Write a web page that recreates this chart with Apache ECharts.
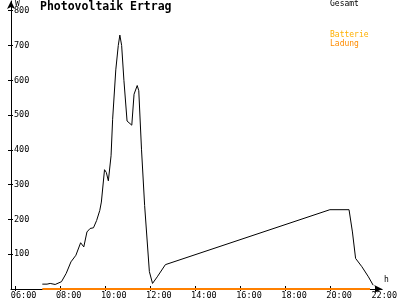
<!DOCTYPE html>
<html><head><meta charset="utf-8">
<script src="https://cdn.jsdelivr.net/npm/echarts@6/dist/echarts.min.js"></script>
<style>html,body{margin:0;padding:0;background:#fff}#c{width:400px;height:300px}</style>
</head><body><div id="c"></div>
<script>
const title = "Photovoltaik Ertrag";
const seriesNames = ["Gesamt", "Batterie", "Ladung"];
const xTicks = [6, 8, 10, 12, 14, 16, 18, 20, 22];
const yTicks = [100, 200, 300, 400, 500, 600, 700, 800];
const gesamtHours = [7.22,7.43,7.57,7.79,8.07,8.28,8.49,8.71,8.92,9.06,9.20,9.34,9.49,9.63,9.77,9.84,9.98,10.06,10.15,10.27,10.34,10.48,10.59,10.66,10.74,10.84,10.98,11.19,11.29,11.43,11.50,11.62,11.76,11.97,12.11,12.32,12.68,19.98,20.83,20.98,21.12,21.40,21.69,21.90];
const gesamtValues = [14,14,16,13,21,45,78,97,133,121,164,174,176,197,226,250,343,335,311,383,488,630,700,730,700,600,483,471,560,585,570,402,240,50,16,35,70,228,228,164,88,64,35,11];
const ladungHours = [7.22, 21.76];
const ladungValues = [0, 0];

const fmt = v => (v < 10 ? "0" : "") + Math.round(v) + ":00";
const mono = "DejaVu Sans Mono";
const chart = echarts.init(document.getElementById('c'), null, {renderer: 'canvas'});
const grid = {left: 11, right: 2, top: 1, bottom: 9};
const xBase = {type: 'value', min: 5.83, max: 22.3, position: 'bottom', splitLine: {show: false}};
const yBase = {type: 'value', min: 0, max: 828, position: 'left', splitLine: {show: false}};
chart.setOption({
  animation: false,
  grid: grid,
  xAxis: [
    Object.assign({}, xBase, {
      axisLine: {show: true, lineStyle: {color: '#000', width: 1}, symbol: ['none', 'arrow'], symbolSize: [6, 8]},
      axisTick: {show: true, length: 2, inside: false, customValues: xTicks, lineStyle: {color: '#000'}},
      axisLabel: {show: true, customValues: xTicks, formatter: fmt, fontFamily: mono, fontSize: 8.5, color: '#000', margin: 2, align: 'left', padding: [0, 0, 0, -4]}
    }),
    Object.assign({}, xBase, {
      axisLine: {show: false},
      axisTick: {show: true, length: 3, inside: true, customValues: xTicks, lineStyle: {color: '#000'}},
      axisLabel: {show: false}
    })
  ],
  yAxis: [
    Object.assign({}, yBase, {
      axisLine: {show: true, lineStyle: {color: '#000', width: 1}, symbol: ['none', 'arrow'], symbolSize: [6, 8]},
      axisTick: {show: true, length: 3, inside: false, customValues: yTicks, lineStyle: {color: '#000'}},
      axisLabel: {show: true, inside: true, customValues: yTicks, fontFamily: mono, fontSize: 8.5, color: '#000', margin: 3}
    }),
    Object.assign({}, yBase, {
      axisLine: {show: false},
      axisTick: {show: true, length: 2, inside: true, customValues: yTicks, lineStyle: {color: '#000'}},
      axisLabel: {show: false}
    })
  ],
  series: [
    {name: seriesNames[2], type: 'line', xAxisIndex: 0, yAxisIndex: 0, symbol: 'none', z: 3,
     lineStyle: {color: '#ff8000', width: 2}, data: ladungHours.map((h, i) => [h, ladungValues[i]])},
    {name: seriesNames[0], type: 'line', xAxisIndex: 0, yAxisIndex: 0, symbol: 'none', z: 4,
     lineStyle: {color: '#000', width: 1}, data: gesamtHours.map((h, i) => [h, gesamtValues[i]])}
  ],
  graphic: [
    {type: 'text', left: 40, top: 1, z: 10, style: {text: title, font: 'bold 11.5px "DejaVu Sans Mono"', fill: '#000'}},
    {type: 'text', left: 15, top: 0, z: 10, style: {text: 'W', font: '8px "DejaVu Sans Mono"', fill: '#000'}},
    {type: 'text', left: 384, top: 276, z: 10, style: {text: 'h', font: '8px "DejaVu Sans Mono"', fill: '#000'}},
    {type: 'text', left: 330, top: 0, z: 10, style: {text: seriesNames[0], font: '8px "DejaVu Sans Mono"', fill: '#000'}},
    {type: 'text', left: 330, top: 31, z: 10, style: {text: seriesNames[1], font: '8px "DejaVu Sans Mono"', fill: '#ffb000'}},
    {type: 'text', left: 330, top: 40, z: 10, style: {text: seriesNames[2], font: '8px "DejaVu Sans Mono"', fill: '#ff8c00'}}
  ]
});
</script></body></html>
